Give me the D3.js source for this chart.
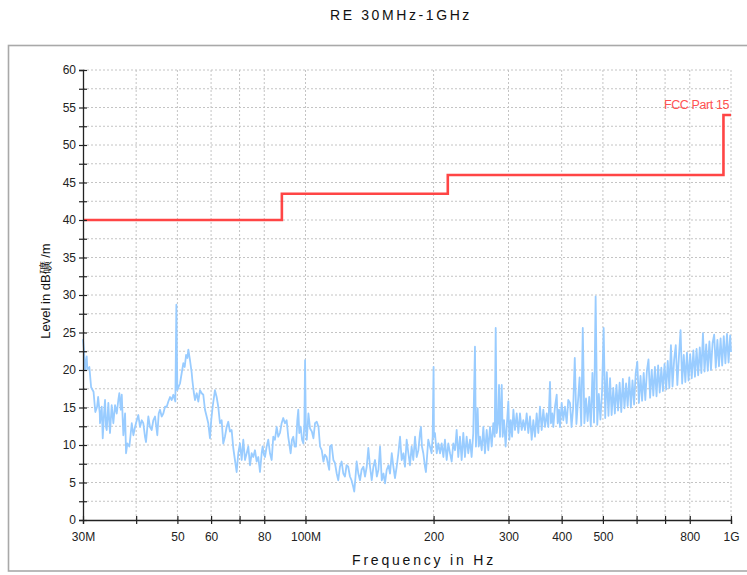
<!DOCTYPE html>
<html>
<head>
<meta charset="utf-8">
<script src="https://cdn.jsdelivr.net/npm/d3@7"></script>
<style>
  html, body { margin: 0; padding: 0; background: #ffffff; }
  svg { display: block; font-family: "Liberation Sans", Arial, sans-serif; }
</style>
</head>
<body>
<svg id="chart" width="747" height="575"></svg>
<script>
// ---------------- data ----------------
const titleText = "RE 30MHz-1GHz";
const xTitle = "Frequency in Hz";
const yTitle = "Level in dB礦 /m";
const limitName = "FCC Part 15";

const xTickValues = [30, 40, 50, 60, 70, 80, 100, 200, 300, 400, 500, 600, 700, 800, 1000];
const xTickLabels = ["30M", "", "50", "60", "", "80", "100M", "200", "300", "400", "500", "", "", "800", "1G"];
const yTickValues = [0, 2.5, 5, 7.5, 10, 12.5, 15, 17.5, 20, 22.5, 25, 27.5, 30, 32.5, 35, 37.5, 40, 42.5, 45, 47.5, 50, 52.5, 55, 57.5, 60];
const yLabelValues = [0, 5, 10, 15, 20, 25, 30, 35, 40, 45, 50, 55, 60];

// limit line (FCC Part 15), MHz / dBuV/m
const limitFreq  = [30, 88, 88, 216, 216, 960, 960, 1000];
const limitLevel = [40, 40, 43.5, 43.5, 46, 46, 54, 54];

// measured trace, MHz
const traceFreq = [
  30.0, 30.16, 30.33, 30.61, 30.71, 31.05, 31.35, 31.76, 32.07, 32.38, 32.56, 32.85, 32.89, 33.2, 33.38, 33.62, 33.8, 33.98, 34.11, 34.41,
  34.6, 34.72, 35.04, 35.35, 35.68, 36.01, 36.32, 36.52, 36.8, 37.0, 37.32, 37.67, 37.87, 38.14, 38.56, 39.06, 39.4, 39.76, 40.13, 40.47,
  40.84, 41.22, 41.58, 41.96, 42.19, 42.72, 43.11, 43.51, 43.89, 44.3, 44.85, 45.19, 45.51, 45.93, 46.33, 46.76, 47.19, 47.61, 48.05, 48.49,
  48.91, 49.45, 49.72, 49.99, 50.37, 50.71, 51.18, 51.63, 52.02, 52.4, 52.77, 53.05, 53.53, 54.03, 54.2, 54.61, 55.0, 55.51, 55.99, 56.5,
  57.02, 57.52, 58.05, 58.58, 59.09, 59.63, 60.05, 60.51, 61.26, 61.83, 62.37, 62.95, 63.53, 64.08, 64.67, 65.27, 65.84, 66.45, 67.06, 67.65,
  68.27, 68.91, 69.51, 70.15, 70.8, 71.42, 72.08, 72.75, 73.38, 74.05, 74.74, 75.39, 76.08, 76.79, 77.46, 78.17, 78.89, 79.32, 79.88, 80.31,
  81.05, 81.76, 82.51, 83.27, 84.0, 84.77, 85.55, 86.3, 87.09, 87.89, 88.66, 89.48, 90.31, 91.09, 92.29, 92.94, 93.6, 94.31, 94.99, 95.66,
  96.18, 96.7, 97.45, 98.15, 98.86, 99.4, 99.77, 100.2, 100.7, 101.6, 102.5, 103.5, 104.4, 105.3, 106.3, 107.3, 108.2, 109.2, 110.2, 111.1,
  112.1, 113.1, 113.7,
  114.2, 115.2, 116.3, 117.3, 118.4, 119.4, 120.5, 121.6, 122.7, 123.8, 124.9, 126.0, 127.2, 128.3, 129.5, 130.2, 130.9, 131.9, 133.1, 134.3,
  135.5, 136.8, 138.0, 139.3, 140.5, 141.8, 143.1, 144.4, 145.7, 147.1, 148.4, 149.7, 151.1, 152.5, 153.8, 155.2, 156.7, 158.0, 159.5, 160.9,
  162.3, 163.8, 165.3, 166.8, 168.3, 169.9, 171.3, 172.9, 174.5, 176.0, 177.6, 179.2, 180.9, 182.5, 184.2, 185.8, 186.8, 187.8, 189.2, 190.9,
  191.9, 193.3, 194.3, 196.1, 197.9, 199.0, 200.0, 200.4, 201.5, 203.4, 205.2, 207.1, 209.0, 210.9, 212.7, 214.7, 216.6, 218.6, 220.6, 222.5,
  224.6, 226.6, 228.6, 230.7, 232.8, 234.9, 237.0, 239.2, 241.3, 243.5, 245.7, 247.9, 250.2, 251.5, 253.9, 255.3, 257.1, 259.5, 261.8, 264.1,
  266.6, 268.9, 271.4, 273.9, 276.3, 278.4, 279.9, 281.4, 283.4, 285.0, 286.5, 289.2, 290.7, 292.8, 295.4, 297.1, 299.7, 301.4, 303.7, 305.8,
  308.0, 310.7, 313.6, 316.4, 319.2, 322.2, 325.0, 328.0, 331.0, 333.9, 337.0, 340.1, 343.1, 346.2, 349.4, 352.5, 355.7, 359.0, 362.2, 365.5,
  368.9, 372.1, 375.5, 377.5, 380.2, 382.3, 385.8, 389.4, 391.5, 394.3, 396.4, 400.0, 403.5, 407.2, 411.0, 414.5,
  418.4, 422.0, 425.7, 429.4, 433.2, 436.9, 440.7, 444.6, 448.4, 452.3, 456.3, 460.3, 464.3, 468.3, 472.4, 476.5, 480.7, 484.9, 489.1, 493.3,
  497.6, 502.0, 506.3, 510.7, 515.2, 519.7, 524.2, 528.8, 533.4, 538.0, 542.7, 547.4, 552.2, 557.0, 561.9, 566.8, 571.7, 576.7, 581.7, 586.8,
  591.9, 597.0, 602.2, 607.5, 612.8, 618.1, 623.5, 628.9, 634.4, 639.9, 645.5, 651.1, 656.8, 662.5, 668.3, 674.1, 680.0, 685.9, 691.9, 697.9,
  704.0, 710.1, 716.3, 722.5, 728.8, 735.2, 741.6, 748.0, 754.5, 761.1, 767.7, 774.4, 781.1, 787.9, 794.8, 801.7, 808.7, 815.7, 822.8, 830.0,
  837.2, 844.5, 851.8, 859.2, 866.7, 874.3, 881.9, 889.6, 897.3, 905.1, 913.0, 920.9, 929.0, 937.0, 945.2, 953.4, 961.7, 970.1, 978.5, 987.0,
  995.6, 1000
];
// measured trace, dBuV/m
const traceLevel = [
  24.1, 22.7, 20.0, 21.8, 20.1, 20.4, 17.7, 17.1, 14.4, 15.1, 16.4, 14.2, 12.9, 15.1, 10.9, 14.2, 16.0, 12.4, 12.0, 15.6,
  12.9, 11.6, 15.3, 12.9, 15.3, 14.2, 16.0, 16.9, 14.7, 16.7, 11.3, 14.2, 8.9, 10.2, 9.8, 12.9, 11.3, 12.4, 13.3, 14.0,
  12.4, 13.3, 12.9, 11.1, 10.4, 13.8, 12.4, 12.0, 13.3, 13.8, 11.3, 14.2, 14.7, 13.8, 14.2, 15.1, 15.1, 15.8, 16.4, 16.0,
  16.7, 15.8, 28.7, 17.3, 17.8, 18.2, 19.6, 20.9, 20.4, 22.0, 21.6, 22.7, 21.3, 19.6, 18.7, 17.1, 16.0, 16.9, 15.8, 17.3,
  16.9, 16.7, 14.7, 13.8, 12.9, 10.9, 13.3, 15.1, 17.3, 16.4, 15.1, 12.9, 13.3, 10.2, 11.1, 12.4, 13.1, 11.8, 12.0, 9.6,
  8.0, 6.4, 8.9, 10.2, 8.0, 10.7, 8.0, 8.9, 9.8, 7.3, 8.9, 8.4, 9.3, 7.8, 8.4, 6.4, 8.9, 9.8, 8.7, 8.4,
  9.8, 10.7, 8.9, 8.0, 11.1, 10.7, 12.4, 11.1, 11.6, 12.9, 13.6, 12.9, 13.3, 11.1, 8.9, 10.7, 11.1, 9.8, 9.8, 13.3,
  14.7, 11.6, 12.4, 10.7, 10.2, 12.9, 21.3, 12.4, 10.7, 14.2, 12.2, 11.8, 10.9, 12.9, 13.1, 12.4, 9.8, 9.3, 7.8, 8.7,
  8.4, 7.3, 6.7,
  9.8, 10.0, 8.0, 7.6, 6.2, 5.3, 7.1, 7.8, 6.2, 5.8, 7.3, 7.1, 5.8, 5.3, 4.4, 3.8, 5.3, 7.8, 6.2, 5.3,
  6.7, 7.1, 5.8, 7.1, 9.6, 7.1, 5.3, 7.1, 8.0, 5.8, 6.7, 9.8, 5.3, 6.2, 4.9, 6.7, 7.3, 6.2, 8.9, 7.1,
  5.6, 7.1, 8.9, 11.1, 8.0, 8.9, 7.1, 10.7, 8.9, 7.3, 9.8, 8.0, 11.1, 8.4, 9.3, 11.6, 12.4, 9.8, 8.9, 7.1,
  6.4, 8.9, 10.7, 9.8, 8.9, 11.1, 20.4, 11.1, 11.6, 8.9, 10.2, 8.9, 10.2, 8.4, 10.7, 8.0, 10.2, 8.9, 7.8, 10.2,
  9.3, 12.0, 8.4, 11.1, 8.0, 11.6, 8.4, 11.1, 8.9, 10.7, 8.4, 11.6, 23.1, 9.8, 14.9, 9.8, 11.1, 9.3, 12.4, 8.9,
  12.0, 9.3, 12.4, 9.8, 12.9, 11.1, 25.6, 11.6, 12.9, 18.0, 11.1, 18.0, 11.1, 13.3, 9.8, 12.4, 15.8, 10.7, 13.3, 11.1,
  14.7, 12.0, 14.2, 11.6, 14.2, 12.0, 13.3, 12.0, 14.2, 11.6, 13.8, 10.7, 13.3, 11.1, 14.2, 11.6, 15.1, 12.0, 14.7, 12.4,
  14.2, 12.4, 18.4, 12.9, 14.2, 12.4, 15.1, 16.7, 12.9, 14.7, 12.4, 15.6, 13.3, 15.1, 12.9, 16.0,
  15.6, 12.4, 15.0, 21.6, 12.8, 15.8, 19.0, 12.6, 25.6, 12.9, 16.2, 13.2, 16.4, 12.5, 19.6, 13.0, 29.8, 12.7, 16.8, 13.4,
  17.0, 25.6, 13.6, 19.7, 13.9, 18.9, 14.0, 17.6, 14.2, 18.0, 14.6, 18.3, 14.4, 18.8, 14.9, 18.2, 15.2, 19.0, 15.0, 18.6,
  15.4, 19.5, 21.1, 15.6, 19.2, 15.9, 19.6, 16.0, 19.9, 21.4, 16.3, 20.0, 16.6, 20.4, 16.5, 20.6, 17.0, 20.3, 17.2, 20.8,
  17.4, 21.2, 17.6, 23.3, 17.8, 21.4, 23.3, 18.0, 21.8, 25.3, 18.2, 22.0, 18.4, 22.3, 18.6, 22.1, 18.9, 22.6, 19.1, 22.8,
  19.3, 23.0, 19.6, 24.9, 19.8, 23.4, 19.9, 23.8, 20.0, 23.6, 24.7, 20.3, 24.0, 20.5, 24.2, 20.6, 24.5, 20.9, 24.8, 21.0,
  24.6, 22.4
];

// ---------------- chart ----------------
const svg = d3.select("#chart");
const plot = { left: 83, right: 731, top: 70, bottom: 520 };

const x = d3.scaleLog().domain([30, 1000]).range([plot.left, plot.right]);
const y = d3.scaleLinear().domain([0, 60]).range([plot.bottom, plot.top]);

// frame
svg.append("rect")
  .attr("x", 8.5).attr("y", 45.5)
  .attr("width", 745).attr("height", 525.5)
  .attr("fill", "#ffffff")
  .attr("stroke", "#a9a9a9")
  .attr("stroke-width", 1.6);

// title
svg.append("text")
  .attr("x", 401).attr("y", 20)
  .attr("text-anchor", "middle")
  .attr("font-size", 14)
  .attr("letter-spacing", "2.6px")
  .attr("fill", "#111")
  .text(titleText);

// grid
const grid = svg.append("g").attr("class", "grid");
grid.selectAll("line.h")
  .data(yTickValues.filter(v => v > 0))
  .join("line")
  .attr("x1", plot.left).attr("x2", plot.right)
  .attr("y1", d => y(d)).attr("y2", d => y(d))
  .attr("stroke", "#c4c4c4").attr("stroke-width", 1)
  .attr("stroke-dasharray", "2,2");
grid.selectAll("line.v")
  .data(xTickValues.filter(v => v > 30))
  .join("line")
  .attr("x1", d => x(d)).attr("x2", d => x(d))
  .attr("y1", plot.top).attr("y2", plot.bottom)
  .attr("stroke", "#c4c4c4").attr("stroke-width", 1)
  .attr("stroke-dasharray", "2,2");

// trace
const line = d3.line().x((d, i) => x(traceFreq[i])).y(d => y(d));
svg.append("path")
  .datum(traceLevel)
  .attr("d", line)
  .attr("fill", "none")
  .attr("stroke", "#99ccff")
  .attr("stroke-width", 1.8)
  .attr("stroke-linejoin", "round");

// limit
const limLine = d3.line().x((d, i) => x(limitFreq[i])).y(d => y(d));
svg.append("path")
  .datum(limitLevel)
  .attr("d", limLine)
  .attr("fill", "none")
  .attr("stroke", "#ff4545")
  .attr("stroke-width", 2.6);

svg.append("text")
  .attr("x", 729).attr("y", 109)
  .attr("text-anchor", "end")
  .attr("font-size", 12.5)
  .attr("letter-spacing", "-0.4px")
  .attr("fill", "#ff5252")
  .text(limitName);

// axes
const yAxis = d3.axisLeft(y)
  .tickValues(yTickValues)
  .tickSize(4)
  .tickPadding(3)
  .tickFormat(d => yLabelValues.includes(d) ? String(d) : "");
const gy = svg.append("g").attr("transform", `translate(${plot.left},0)`).call(yAxis);
gy.select(".domain").attr("stroke", "#222").attr("stroke-width", 1.3);
gy.selectAll(".tick line").attr("x1", 4).attr("x2", -4).attr("stroke", "#222").attr("stroke-width", 1.2);
gy.selectAll(".tick text").attr("font-size", 12).attr("fill", "#222")
  .attr("font-family", "'Liberation Sans', Arial, sans-serif");

const xAxis = d3.axisBottom(x)
  .tickValues(xTickValues)
  .tickSize(4)
  .tickPadding(8)
  .tickFormat((d, i) => xTickLabels[i]);
const gx = svg.append("g").attr("transform", `translate(0,${plot.bottom})`).call(xAxis);
gx.select(".domain").attr("stroke", "#222").attr("stroke-width", 1.3);
gx.selectAll(".tick line").attr("y1", -4).attr("y2", 4).attr("stroke", "#222").attr("stroke-width", 1.2);
gx.selectAll(".tick text").attr("font-size", 12).attr("fill", "#222")
  .attr("font-family", "'Liberation Sans', Arial, sans-serif");

// axis titles
svg.append("text")
  .attr("x", 424).attr("y", 565)
  .attr("text-anchor", "middle")
  .attr("font-size", 14)
  .attr("letter-spacing", "2.8px")
  .attr("fill", "#111")
  .text(xTitle);

svg.append("text")
  .attr("transform", "translate(50,291) rotate(-90)")
  .attr("text-anchor", "middle")
  .attr("font-size", 13)
  .attr("fill", "#111")
  .text(yTitle);
</script>
</body>
</html>
